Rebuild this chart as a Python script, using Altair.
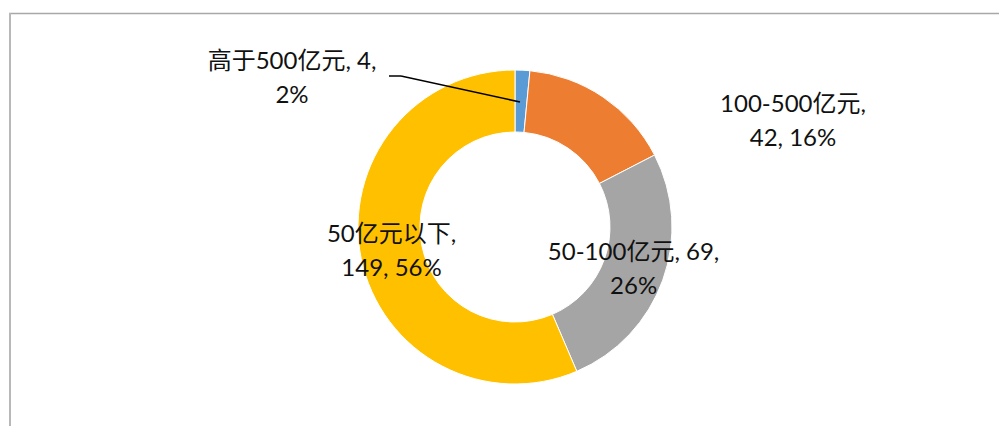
import altair as alt
import pandas as pd

categories = ["高于500亿元", "100-500亿元", "50-100亿元", "50亿元以下"]
values = [4, 42, 69, 149]
percents = [2, 16, 26, 56]
colors = ["#5B9BD5", "#ED7D31", "#A5A5A5", "#FFC000"]
# where the label text wraps: after the value (1) or after the category (0)
wrap_after_value = [1, 0, 1, 0]

labels = []
for c, v, p, w in zip(categories, values, percents, wrap_after_value):
    if w:
        labels.append(f"{c}, {v},\n{p}%")
    else:
        labels.append(f"{c},\n{v}, {p}%")

df = pd.DataFrame({
    "cat": categories,
    "val": values,
    "label": labels,
    "order": list(range(len(categories))),
})

FONT = "Lato, 'Noto Sans CJK SC', sans-serif"
FS = 24
LH = 34
TXT = "#111111"
CX, CY = 507, 219

base = alt.Chart(df).encode(
    theta=alt.Theta("val:Q", stack=True),
    order=alt.Order("order:Q"),
)

arcs = base.mark_arc(outerRadius=157, innerRadius=95, stroke="white", strokeWidth=1).encode(
    color=alt.Color("cat:N", scale=alt.Scale(domain=categories, range=colors), legend=None),
    x=alt.value(CX), y=alt.value(CY),
)

inner_text = base.mark_text(
    radius=126, font=FONT, fontSize=FS, color=TXT, dy=-LH / 2,
    lineBreak="\n", lineHeight=LH, align="center", baseline="middle",
).encode(
    text="label:N",
    x=alt.value(CX), y=alt.value(CY),
    opacity=alt.condition(alt.FieldOneOfPredicate(field="order", oneOf=[2, 3]), alt.value(1), alt.value(0)),
)

def outer_label(i, x, y):
    return alt.Chart(df).transform_filter(alt.datum.order == i).mark_text(
        font=FONT, fontSize=FS, color=TXT,
        lineBreak="\n", lineHeight=LH, align="center", baseline="middle",
    ).encode(text="label:N", x=alt.value(x), y=alt.value(y))

lab0 = outer_label(0, 284, 54)
lab1 = outer_label(1, 785, 97)

leader1 = alt.Chart(df).transform_filter(alt.datum.order == 0).mark_rule(color="black", strokeWidth=1.5).encode(
    x=alt.value(381), x2=alt.value(393), y=alt.value(68), y2=alt.value(68))
leader2 = alt.Chart(df).transform_filter(alt.datum.order == 0).mark_rule(color="black", strokeWidth=1.5).encode(
    x=alt.value(393), x2=alt.value(512), y=alt.value(68), y2=alt.value(94))

frame_top = alt.Chart(df).transform_filter(alt.datum.order == 0).mark_rule(color="#a8a8a8", strokeWidth=1.5).encode(
    x=alt.value(1), x2=alt.value(991), y=alt.value(5.5), y2=alt.value(5.5))
frame_left = alt.Chart(df).transform_filter(alt.datum.order == 0).mark_rule(color="#b8b8b8", strokeWidth=2).encode(
    x=alt.value(2), x2=alt.value(2), y=alt.value(5), y2=alt.value(420))

chart = alt.layer(frame_top, frame_left, arcs, inner_text, lab0, lab1, leader1, leader2).properties(
    width=991, height=418,
    padding=0,
    autosize=alt.AutoSizeParams(type="none"),
).configure_view(stroke=None)

chart.save("out.html", embed_options={"renderer": "svg", "actions": False})
